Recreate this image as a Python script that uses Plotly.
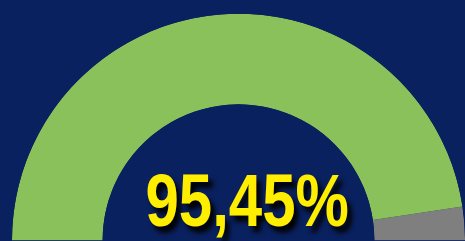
import plotly.graph_objects as go

# Data
labels = ["Rest", "Valor"]
values = [4.55, 95.45]
colors = ["#7f7f7f", "#8bc15b"]
center_label = "95,45%"

total = sum(values)
widths = [v / total * 360 for v in values]
centers = []
acc = 0
for w in widths:
    centers.append(acc + w / 2)
    acc += w

fig = go.Figure()
fig.add_trace(go.Barpolar(
    r=[1] * len(values),
    theta=centers,
    width=widths,
    marker=dict(color=colors, line=dict(width=0)),
    text=labels,
    hoverinfo="text",
    showlegend=False,
))

W, H = 465, 241
BG = "#0a215f"
fig.update_layout(
    width=W, height=H,
    margin=dict(l=0, r=0, t=0, b=0),
    paper_bgcolor=BG,
    plot_bgcolor=BG,
    polar=dict(
        domain=dict(x=[12 / W, 1], y=[0, 228 / H]),
        sector=[0, 180],
        hole=0.6,
        bgcolor="rgba(0,0,0,0)",
        radialaxis=dict(visible=False, range=[0, 1]),
        angularaxis=dict(visible=False, rotation=8.6, direction="clockwise",
                         showgrid=False),
    ),
    annotations=[dict(
        text=center_label, x=247 / W, y=1 - 200 / H, xref="paper", yref="paper",
        xanchor="center", yanchor="middle", showarrow=False,
        font=dict(family="Liberation Sans, Arial, sans-serif", size=75,
                  color="#ffee00", weight="bold",
                  shadow="5px 5px 5px #000000"),
    )],
)

post = """
document.body.style.margin = '0';
document.body.style.padding = '0';
document.body.style.background = '%s';
document.querySelectorAll('.annotation-text').forEach(function(t){
  t.style.transformBox = 'fill-box';
  t.style.transformOrigin = 'center';
  t.style.transform = 'scaleX(0.8)';
});
""" % BG

fig.write_html("out.html", post_script=post,
               config={"displayModeBar": False, "staticPlot": True})
